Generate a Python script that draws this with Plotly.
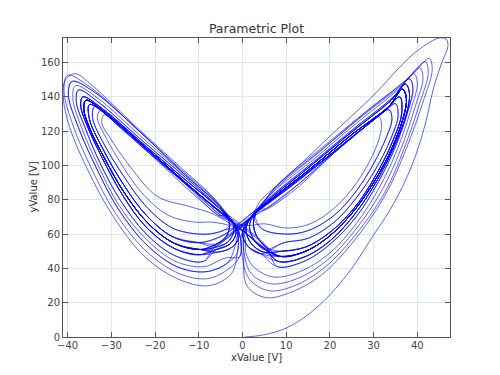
import plotly.graph_objects as go

# ---------------- data ----------------
x_tick_values = [-40, -30, -20, -10, 0, 10, 20, 30, 40]
y_tick_values = [0, 20, 40, 60, 80, 100, 120, 140, 160]

# first transient sweep from the origin to the top-right corner and back down the band
TRANSIENT = [(0.5, 0.0), (5, 1.3), (10, 5.2), (15, 13), (20, 24.6), (25, 40), (30, 59.5),
             (33.5, 73), (36.8, 88.6), (39.5, 105), (41.8, 124), (43.7, 145), (45.6, 160),
             (47.0, 169.5), (46.6, 173.6), (45.0, 174.3), (42, 170.5), (38, 162.5), (30, 141),
             (20, 117), (10, 93), (4, 79)]

# right-wing loops (bottom -> outer edge -> tip -> inner band)
R_A = [(5, 66), (10, 63.5), (15, 65.5), (20, 73), (25, 86), (29, 102), (31.3, 116), (31.8, 125),
       (31.0, 129), (28, 122.5), (20, 105), (13, 88), (6, 75)]
R_B = [(4.5, 63), (10, 60), (15, 62), (21, 71), (26, 85), (30, 101), (33, 117), (34.2, 127),
       (33.5, 132.5), (30, 126.5), (21, 107.5), (13, 89.5), (5.5, 75)]
R_C = [(9.5, 55), (15, 57.5), (21, 67), (26, 81), (30.5, 98), (34, 116), (35.6, 129),
       (35.0, 136), (32, 130.5), (23, 112), (13, 91.5), (5.5, 77)]
R_D = [(9, 50), (14.5, 52.5), (20, 61), (25.5, 75), (30, 92), (34, 112), (36.4, 130),
       (36.0, 140), (33, 133), (24, 114.5), (14, 94), (6, 78.5)]
R_E = [(8.6, 47), (14, 49.5), (19.5, 58), (25, 72), (30, 90), (34, 109), (36.8, 128),
       (37.5, 139), (36.6, 144.5), (33.5, 134.5), (25, 118), (15, 97), (6.5, 80)]
R_F = [(8.3, 44), (14, 46.5), (20, 56), (25.5, 71), (30.5, 90), (34.5, 110), (37.5, 130),
       (38.2, 142), (37.3, 147.5), (34, 138), (25, 119.5), (15, 98.5), (6.5, 81)]
R_G = [(8, 41), (14, 44), (20, 54), (26, 70), (31, 90), (35, 111), (38, 133), (39, 145),
       (38.2, 150.5), (34.5, 140), (25.5, 121.5), (15.5, 100.5), (7, 83)]
R_H = [(2.5, 41), (7, 35), (13, 38), (20, 49), (26, 66), (31.5, 88), (35.5, 110), (38.7, 134),
       (40, 148), (39.2, 153.5), (35.5, 144), (26, 124.5), (16, 103), (7, 84.5)]
R_I = [(2, 37), (6.5, 31), (12.5, 34), (19.5, 45), (26, 63), (32, 86), (36.3, 110), (39.6, 135),
       (41.3, 151), (40.5, 157), (36.5, 147), (27, 128), (17, 106.5), (8, 87.5)]
R_J = [(1.5, 34), (6, 27), (12, 30), (19, 41), (26, 60), (32.5, 84), (37, 110), (40.5, 136),
       (42.5, 154), (41.8, 160.5), (37.5, 150), (28, 130.5), (17.5, 108), (8, 88.5)]
R_K = [(1, 30), (5.3, 23), (11, 26), (18, 36), (25.5, 56), (32.5, 82), (37.5, 110), (41.3, 137),
       (43.4, 156), (42.7, 162.5), (38.5, 152), (29, 133), (18, 110), (8.5, 90)]

# left-wing loops (bottom -> outer edge -> tip -> inner band)
L_a = [(-5, 69.5), (-7.5, 72.5), (-12, 76), (-19.5, 82), (-25.6, 99), (-30, 115), (-32.2, 125),
       (-31.6, 129.5), (-28, 122), (-20, 104), (-12, 85), (-5, 70)]
L_b = [(-4.5, 66), (-7, 67), (-11, 67), (-17, 71), (-23, 84), (-28, 102), (-31.8, 119),
       (-33.2, 128), (-32.5, 132), (-29, 124.5), (-20, 105), (-12, 86.5), (-5.5, 71)]
L_c = [(-4, 62.5), (-6.5, 60.5), (-10, 60), (-16, 63.5), (-22, 76), (-27.5, 95), (-32, 114),
       (-34.3, 128), (-33.8, 134.5), (-30, 127), (-21, 106.5), (-12, 87), (-5, 71)]
L_d = [(-10, 55), (-16, 58.5), (-22, 71), (-27.5, 90), (-32, 110), (-35, 127), (-35, 135.5),
       (-31, 129.5), (-21, 107.5), (-12.5, 88.5), (-5, 73)]
L_e = [(-9.7, 51), (-15.5, 54.5), (-21.5, 66), (-27, 84), (-31.5, 104), (-35, 122),
       (-36.3, 133), (-35.8, 138), (-32, 132), (-22, 110), (-13, 90), (-5.5, 73.5)]
L_f = [(-9.5, 48), (-15.5, 51.5), (-22, 64), (-27.5, 83), (-32, 104), (-35.5, 123), (-37, 135),
       (-36.5, 140), (-32.5, 134), (-22, 111), (-13, 91.5), (-5.5, 75.5)]
L_g = [(-9, 44), (-15.5, 47.5), (-22, 60), (-28, 80), (-32.5, 101), (-36, 122), (-38, 137),
       (-37.5, 144), (-33, 137), (-22.5, 113.5), (-13, 93), (-6, 77)]
L_k = [(-4, 46), (-8.8, 41), (-15.2, 44), (-22, 57), (-28.3, 77), (-33, 100), (-36.8, 122),
       (-38.8, 139), (-38.2, 146.5), (-33.5, 140), (-22.8, 116), (-13.2, 94.5), (-5.8, 77.5)]
L_h = [(-3.5, 43), (-8.5, 38), (-15, 41), (-22, 54), (-28.5, 75), (-33.5, 99), (-37.5, 122),
       (-39.8, 141), (-39, 149), (-34, 143), (-23, 118.5), (-13.5, 95.5), (-6, 78.5)]
L_i = [(-3, 40), (-8, 34), (-14.5, 37), (-22, 50), (-29, 72), (-34.5, 98), (-38.7, 123),
       (-40.8, 143), (-40, 152.5), (-35, 146), (-24, 121), (-14, 97.5), (-6.5, 80.5)]
L_j = [(-2.5, 37), (-7.5, 30), (-14, 33), (-22, 46), (-29.5, 70), (-35.5, 98), (-39.5, 122),
       (-41, 140), (-40.5, 150), (-38.2, 153.5), (-35, 148), (-24.5, 123), (-14, 98.5), (-6.5, 81)]

# connecting pieces through the centre crossing (alternatives are used in turn)
TR_SWITCH_TO_L = [[(2, 70), (-1.5, 62.5), (-5, 55.5)],
                  [(3, 74), (-0.5, 66.5), (-4.5, 59)],
                  [(1, 66.5), (-2.5, 59.5), (-6, 53)],
                  [(2.5, 72), (-1, 64), (-4.5, 57)],
                  [(1.5, 68), (-2, 61), (-5.5, 54.5)],
                  [(3.5, 75), (0, 68), (-4, 60)]]
TR_SWITCH_TO_L_INNER = [[(2, 70), (-1, 64.5)]]
TR_SWITCH_TO_L_DEEP = [[(2, 70), (-0.8, 62), (-1.8, 52)],
                       [(1.5, 68.5), (-1.2, 60.5), (-2.2, 51)]]
TR_SWITCH_TO_R = [[(-2, 66.5), (1, 60), (4.5, 52.5)],
                  [(-3.5, 71), (0, 64), (4, 56)],
                  [(-1, 64), (2, 58), (5, 51)],
                  [(-2.5, 68), (0.5, 61.5), (4, 53.5)],
                  [(-1.5, 65), (1.5, 59), (5, 52)],
                  [(-4, 72.5), (-0.5, 66), (3.5, 58)]]
TR_SWITCH_TO_R_INNER = [[(-2, 66.5), (1.5, 65)]]
TR_SWITCH_TO_R_DEEP = [[(-2, 66.5), (0.5, 59), (0.8, 49)],
                       [(-1.5, 65), (0.9, 57.5), (1.2, 48)]]
TR_STAY_R = [[(2, 70), (0.8, 62.5), (2, 54.5), (4.8, 49.5)],
             [(3.5, 74), (2.5, 67), (3.3, 58.5), (5.6, 52)],
             [(1.5, 68), (0, 60.5), (1.2, 53), (4.2, 48.5)],
             [(2.8, 72), (1.6, 64.5), (2.8, 56), (5.4, 50.5)]]
TR_STAY_R_INNER = [[(2.5, 70.5)], [(3, 71.5)]]
TR_STAY_R_DEEP = [[(2, 70), (0.4, 61), (0.3, 50)],
                  [(1.5, 68.5), (-0.2, 59.5), (-0.1, 48)]]
TR_STAY_L = [[(-2, 66.5), (-1.5, 60), (-3, 54), (-6, 51)],
             [(-3.5, 70.5), (-3, 63.5), (-4.2, 57), (-7, 53)],
             [(-1.5, 64.5), (-0.8, 58.5), (-2.3, 52.5), (-5.5, 49.5)],
             [(-2.5, 68), (-2, 61.5), (-3.5, 55), (-6.5, 52)]]
TR_STAY_L_INNER = [[(-2.5, 67)], [(-3, 68)]]
TR_STAY_L_DEEP = [[(-2, 66.5), (-1, 58), (-1.2, 49)],
                  [(-1.5, 65), (-0.4, 56.5), (-0.6, 47)]]

# order in which the wing loops are visited
LOOP_ORDER = ["Le", "Lf", "RE", "RD", "RE", "RG", "Ld", "Le", "Lh", "RF", "RE", "Lc", "Le", "Lg",
              "RC", "RD", "RE", "RI", "Le", "Lf", "Li", "RE", "RB", "RC", "RF", "Lb", "Ld", "Le",
              "Lj", "RH", "RE", "La", "Lc", "Le", "RA", "RB", "RD", "RE", "RJ", "Lf", "Le", "Lk",
              "RF", "RE", "RK", "Ld", "Le", "Lf", "RE", "RD", "RG", "Lh", "Le", "Lg", "RE", "RF",
              "Ld"]

# ---------------- assemble the trajectory ----------------
loops = {"RA": R_A, "RB": R_B, "RC": R_C, "RD": R_D, "RE": R_E, "RF": R_F, "RG": R_G,
         "RH": R_H, "RI": R_I, "RJ": R_J, "RK": R_K,
         "La": L_a, "Lb": L_b, "Lc": L_c, "Ld": L_d, "Le": L_e, "Lf": L_f, "Lg": L_g,
         "Lk": L_k, "Lh": L_h, "Li": L_i, "Lj": L_j}
inner = set("ABabc")
deep = set("HIJKhijk")
transitions = {
    ("switch", "L", "mid"): TR_SWITCH_TO_L, ("switch", "L", "inner"): TR_SWITCH_TO_L_INNER,
    ("switch", "L", "deep"): TR_SWITCH_TO_L_DEEP, ("switch", "R", "mid"): TR_SWITCH_TO_R,
    ("switch", "R", "inner"): TR_SWITCH_TO_R_INNER, ("switch", "R", "deep"): TR_SWITCH_TO_R_DEEP,
    ("stay", "R", "mid"): TR_STAY_R, ("stay", "R", "inner"): TR_STAY_R_INNER,
    ("stay", "R", "deep"): TR_STAY_R_DEEP, ("stay", "L", "mid"): TR_STAY_L,
    ("stay", "L", "inner"): TR_STAY_L_INNER, ("stay", "L", "deep"): TR_STAY_L_DEEP,
}
used = {}

points = list(TRANSIENT)
prev_wing = "R"
for name in LOOP_ORDER:
    wing, var = name[0], name[1]
    cls = "inner" if var in inner else ("deep" if var in deep else "mid")
    key = ("stay" if wing == prev_wing else "switch", wing, cls)
    options = transitions[key]
    n = used.get(key, 0)
    used[key] = n + 1
    points += options[n % len(options)]
    points += loops[name]
    prev_wing = wing

x_value = [p[0] for p in points]
y_value = [p[1] for p in points]

# ---------------- figure ----------------
font_family = "DejaVu Sans"
fig = go.Figure()
fig.add_trace(go.Scatter(
    x=x_value, y=y_value, mode="lines",
    line=dict(color="rgba(0,0,255,0.62)", width=1, shape="spline", smoothing=1.0),
    hoverinfo="skip", showlegend=False,
))

axis_common = dict(
    ticks="inside", ticklen=5, tickwidth=1, tickcolor="#555555",
    showline=True, linecolor="#555555", linewidth=1, mirror="allticks",
    showgrid=True, gridcolor="#d9eaf3", gridwidth=1, zeroline=False,
    tickfont=dict(family=font_family, size=10, color="#444444"),
)

# the page body adds an 8 px offset, so the margins are shifted to compensate
fig.update_layout(
    width=500, height=375, autosize=False,
    margin=dict(l=55, r=58, t=30, b=46, pad=0),
    paper_bgcolor="white", plot_bgcolor="white",
    title=dict(text="Parametric Plot", x=0.5, xref="paper", y=1 - 20.5 / 375, yref="container",
               xanchor="center", yanchor="middle",
               font=dict(family=font_family, size=12.5, color="#333333")),
    xaxis=dict(range=[-41.05, 47.47], tickvals=x_tick_values, ticklabelstandoff=-1,
               **axis_common),
    yaxis=dict(range=[0, 174.3], tickvals=y_tick_values, ticklabelstandoff=0,
               **axis_common),
    annotations=[
        dict(text="xValue [V]", xref="paper", yref="paper", x=0.5, y=0, yshift=-20,
             xanchor="center", yanchor="middle", showarrow=False,
             font=dict(family=font_family, size=10, color="#333333")),
        dict(text="yValue [V]", xref="paper", yref="paper", x=0, y=0.5, xshift=-30,
             xanchor="center", yanchor="middle", textangle=-90, showarrow=False,
             font=dict(family=font_family, size=10, color="#333333")),
    ],
)

fig.write_html("out.html")
